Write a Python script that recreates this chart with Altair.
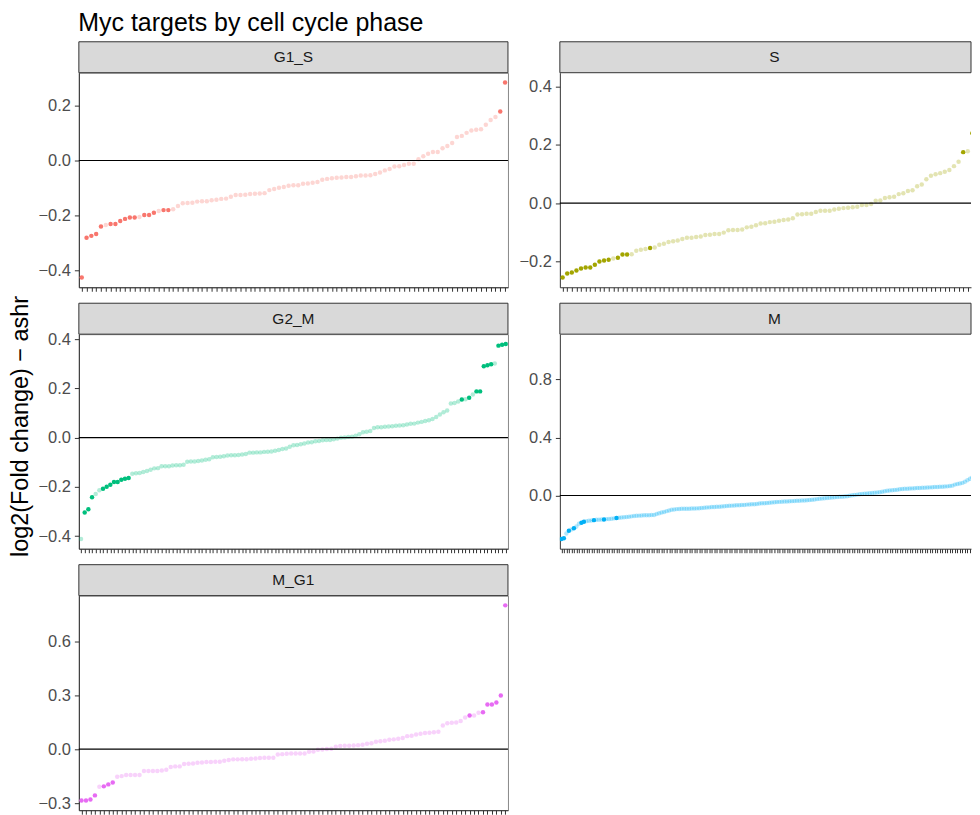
import altair as alt
import pandas as pd

TITLE = "Myc targets by cell cycle phase"
Y_TITLE = "log2(Fold change) \u2212 ashr"
PHASES = ["G1_S", "S", "G2_M", "M", "M_G1"]
COLORS = ["#F8766D", "#A3A500", "#00BF7D", "#00B0F6", "#E76BF3"]

G1_S_LFC = [
    -0.427, -0.282, -0.275, -0.268, -0.241, -0.235, -0.232, -0.232, -0.221, -0.213,
    -0.208, -0.208, -0.206, -0.199, -0.199, -0.191, -0.184, -0.181, -0.181, -0.178,
    -0.166, -0.156, -0.155, -0.154, -0.150, -0.149, -0.149, -0.145, -0.143, -0.140,
    -0.139, -0.132, -0.126, -0.126, -0.125, -0.122, -0.121, -0.120, -0.119, -0.108,
    -0.104, -0.099, -0.097, -0.092, -0.090, -0.090, -0.085, -0.084, -0.081, -0.078,
    -0.070, -0.067, -0.065, -0.063, -0.062, -0.060, -0.060, -0.057, -0.055, -0.055,
    -0.054, -0.049, -0.044, -0.036, -0.031, -0.022, -0.021, -0.016, -0.012, -0.012,
    0.005, 0.016, 0.025, 0.031, 0.031, 0.045, 0.053, 0.064, 0.086, 0.090,
    0.101, 0.110, 0.112, 0.114, 0.131, 0.148, 0.159, 0.179, 0.285,
]
G1_S_SIG = [1, 2, 3, 4, 5, 7, 8, 9, 10, 11, 12, 14, 15, 16, 18, 19, 88, 89]

S_LFC = [
    -0.255, -0.241, -0.238, -0.231, -0.224, -0.221, -0.221, -0.211, -0.200, -0.197,
    -0.194, -0.190, -0.187, -0.176, -0.176, -0.175, -0.163, -0.160, -0.157, -0.154,
    -0.152, -0.143, -0.139, -0.133, -0.131, -0.128, -0.123, -0.119, -0.119, -0.116,
    -0.114, -0.109, -0.108, -0.106, -0.106, -0.101, -0.093, -0.092, -0.092, -0.090,
    -0.083, -0.081, -0.076, -0.070, -0.069, -0.065, -0.064, -0.060, -0.058, -0.056,
    -0.052, -0.039, -0.038, -0.036, -0.036, -0.030, -0.026, -0.026, -0.026, -0.022,
    -0.019, -0.017, -0.016, -0.014, -0.012, -0.006, -0.006, -0.003, 0.008, 0.009,
    0.018, 0.020, 0.022, 0.031, 0.034, 0.042, 0.044, 0.058, 0.064, 0.082,
    0.094, 0.099, 0.103, 0.108, 0.114, 0.127, 0.142, 0.175, 0.178, 0.240,
    0.268, 0.310, 0.414,
]
S_SIG = [1, 2, 3, 4, 5, 6, 7, 8, 9, 10, 11, 13, 14, 15, 20, 88, 90, 93]

G2_M_LFC = [
    -0.412, -0.304, -0.291, -0.242, -0.229, -0.214, -0.208, -0.200, -0.192, -0.180,
    -0.180, -0.171, -0.167, -0.164, -0.147, -0.145, -0.144, -0.140, -0.136, -0.131,
    -0.125, -0.124, -0.116, -0.116, -0.116, -0.113, -0.112, -0.112, -0.110, -0.098,
    -0.097, -0.097, -0.095, -0.093, -0.090, -0.088, -0.080, -0.079, -0.078, -0.076,
    -0.073, -0.072, -0.072, -0.071, -0.069, -0.067, -0.061, -0.061, -0.060, -0.060,
    -0.058, -0.057, -0.056, -0.053, -0.050, -0.046, -0.044, -0.037, -0.031, -0.030,
    -0.027, -0.024, -0.020, -0.019, -0.015, -0.014, -0.011, -0.010, -0.010, -0.007,
    -0.004, 0.000, 0.001, 0.003, 0.004, 0.008, 0.014, 0.022, 0.024, 0.027,
    0.039, 0.042, 0.042, 0.044, 0.045, 0.046, 0.048, 0.049, 0.050, 0.053,
    0.056, 0.057, 0.061, 0.064, 0.068, 0.071, 0.076, 0.084, 0.094, 0.103,
    0.110, 0.139, 0.141, 0.147, 0.155, 0.156, 0.162, 0.175, 0.188, 0.188,
    0.290, 0.294, 0.298, 0.301, 0.374, 0.378, 0.381,
]
G2_M_SIG = [2, 3, 4, 7, 8, 9, 10, 11, 12, 13, 14, 105, 107, 109, 110, 111, 112, 113, 115, 116, 117]

M_LFC = [
    -0.300, -0.295, -0.262, -0.243, -0.234, -0.226, -0.214, -0.195, -0.188, -0.181,
    -0.177, -0.175, -0.173, -0.170, -0.168, -0.167, -0.166, -0.165, -0.163, -0.162,
    -0.160, -0.158, -0.156, -0.154, -0.152, -0.150, -0.148, -0.146, -0.144, -0.142,
    -0.140, -0.139, -0.138, -0.137, -0.136, -0.136, -0.135, -0.134, -0.128, -0.123,
    -0.118, -0.114, -0.108, -0.103, -0.099, -0.096, -0.094, -0.093, -0.092, -0.092,
    -0.091, -0.091, -0.090, -0.090, -0.089, -0.088, -0.086, -0.085, -0.083, -0.082,
    -0.080, -0.079, -0.078, -0.077, -0.076, -0.074, -0.072, -0.071, -0.070, -0.069,
    -0.068, -0.067, -0.066, -0.065, -0.063, -0.062, -0.061, -0.060, -0.058, -0.056,
    -0.054, -0.053, -0.052, -0.050, -0.048, -0.047, -0.045, -0.044, -0.043, -0.042,
    -0.041, -0.040, -0.039, -0.038, -0.037, -0.036, -0.035, -0.034, -0.033, -0.031,
    -0.029, -0.027, -0.025, -0.023, -0.021, -0.019, -0.017, -0.015, -0.014, -0.012,
    -0.010, -0.009, -0.008, -0.007, -0.005, -0.002, 0.002, 0.004, 0.006, 0.008,
    0.010, 0.012, 0.014, 0.015, 0.017, 0.019, 0.021, 0.023, 0.026, 0.029,
    0.033, 0.035, 0.036, 0.038, 0.040, 0.043, 0.045, 0.046, 0.047, 0.048,
    0.049, 0.050, 0.051, 0.052, 0.053, 0.054, 0.055, 0.056, 0.057, 0.058,
    0.059, 0.060, 0.061, 0.062, 0.063, 0.065, 0.068, 0.075, 0.080, 0.083,
    0.087, 0.095, 0.105, 0.115, 0.125, 0.158, 0.163, 0.168, 0.180, 0.250,
    1.046,
]
M_SIG = [1, 2, 4, 6, 9, 10, 14, 18, 23, 166, 167, 168, 169, 170, 171]

M_G1_LFC = [
    -0.285, -0.285, -0.280, -0.257, -0.209, -0.207, -0.196, -0.185, -0.154, -0.150,
    -0.144, -0.144, -0.144, -0.144, -0.122, -0.122, -0.122, -0.122, -0.119, -0.115,
    -0.100, -0.096, -0.096, -0.083, -0.081, -0.080, -0.076, -0.074, -0.072, -0.072,
    -0.070, -0.070, -0.065, -0.061, -0.057, -0.057, -0.056, -0.056, -0.054, -0.052,
    -0.050, -0.048, -0.048, -0.048, -0.030, -0.028, -0.026, -0.024, -0.024, -0.024,
    -0.024, -0.015, -0.013, -0.004, -0.002, 0.000, 0.002, 0.013, 0.017, 0.019,
    0.019, 0.020, 0.022, 0.024, 0.030, 0.033, 0.041, 0.044, 0.046, 0.052,
    0.054, 0.057, 0.061, 0.072, 0.074, 0.081, 0.085, 0.089, 0.091, 0.093,
    0.096, 0.131, 0.144, 0.146, 0.148, 0.156, 0.176, 0.187, 0.187, 0.202,
    0.204, 0.248, 0.248, 0.259, 0.298, 0.798,
]
M_G1_SIG = [1, 2, 3, 4, 6, 7, 8, 88, 91, 92, 93, 94, 95, 96]

Y_TICKS = {
    "G1_S": [-0.4, -0.2, 0.0, 0.2],
    "S": [-0.2, 0.0, 0.2, 0.4],
    "G2_M": [-0.4, -0.2, 0.0, 0.2, 0.4],
    "M": [0.0, 0.4, 0.8],
    "M_G1": [-0.3, 0.0, 0.3, 0.6],
}

DATA = {
    "G1_S": (G1_S_LFC, G1_S_SIG),
    "S": (S_LFC, S_SIG),
    "G2_M": (G2_M_LFC, G2_M_SIG),
    "M": (M_LFC, M_SIG),
    "M_G1": (M_G1_LFC, M_G1_SIG),
}

FULL_W, H, STRIP = 430, 215, 31
RIGHT_VISIBLE_W = 412          # right column is cut by the page edge
FONT = "Liberation Sans"
RIGHT = {"S", "M"}


def panel(phase, color, show_title=False):
    lfc, sig = DATA[phase]
    n = len(lfc)
    df = pd.DataFrame({
        "rank": list(range(1, n + 1)),
        "lfc": lfc,
        "sig": [1 if (i + 1) in sig else 0 for i in range(n)],
    })
    lo, hi = min(lfc), max(lfc)
    pad = 0.05 * (hi - lo)

    w = RIGHT_VISIBLE_W if phase in RIGHT else FULL_W
    x_lo = 0.4
    x_hi_full = n + 0.6
    x_hi = x_lo + (x_hi_full - x_lo) * w / FULL_W
    tick_vals = [r for r in range(1, n + 1) if r <= x_hi]

    yaxis_kw = dict(
        values=Y_TICKS[phase], format=".1f", labelFontSize=16.5, labelColor="#4d4d4d",
        labelFont=FONT, tickSize=4.5, tickColor="#333333", labelPadding=4,
        domainColor="#333333", grid=False,
    )
    if show_title:
        yaxis_kw.update(title=Y_TITLE, titleFontSize=23.5, titleFont=FONT,
                        titleFontWeight="normal", titleColor="black",
                        titlePadding=5, titleY=92)
    else:
        yaxis_kw.update(title=None)

    x = alt.X("rank:Q", scale=alt.Scale(domain=[x_lo, x_hi], nice=False, zero=False),
              axis=alt.Axis(values=tick_vals, labels=False, ticks=True, tickSize=4,
                            tickColor="#333333", domainColor="#333333", title=None,
                            grid=False))
    y = alt.Y("lfc:Q", scale=alt.Scale(domain=[lo - pad, hi + pad], nice=False, zero=False),
              axis=alt.Axis(**yaxis_kw))

    pts = alt.Chart(df).mark_circle(size=20, color=color, clip=True).encode(
        x=x, y=y,
        opacity=alt.Opacity("sig:N", scale=alt.Scale(domain=[0, 1], range=[0.3, 1.0]), legend=None),
    )
    rule = alt.Chart(pd.DataFrame({"lfc": [0.0]})).mark_rule(color="black", strokeWidth=1.1).encode(
        y=y
    )
    sdf = pd.DataFrame({"phase": [phase]})
    strip = alt.Chart(sdf).mark_rect(fill="#d9d9d9", stroke="#333333", strokeWidth=1).encode(
        x=alt.value(0), x2=alt.value(w), y=alt.value(-STRIP), y2=alt.value(0)
    )
    stext = alt.Chart(sdf).mark_text(font=FONT, fontSize=15.5, color="#1a1a1a",
                                     baseline="middle", align="center").encode(
        x=alt.value(FULL_W / 2), y=alt.value(-STRIP / 2), text="phase:N"
    )
    ch = alt.layer(pts, rule, strip, stext).properties(width=w, height=H)
    if phase in RIGHT:
        ch = ch.properties(view=alt.ViewBackground(stroke=None))
    else:
        ch = ch.properties(view=alt.ViewBackground(stroke="#888888", strokeWidth=1))
    return ch


p = [panel(ph, c, show_title=(ph == "G2_M")) for ph, c in zip(PHASES, COLORS)]

chart = alt.concat(
    *p, columns=2, spacing=alt.RowColnumber(row=47, column=52), bounds="flush"
).properties(
    title=alt.Title(TITLE, anchor="start", dx=70, fontSize=25, font=FONT,
                    fontWeight="normal", color="black", offset=5),
    padding={"left": 0, "top": 2, "right": 0, "bottom": 0},
).configure(background="white")

chart.save("out.html", embed_options={"renderer": "svg", "actions": False})
